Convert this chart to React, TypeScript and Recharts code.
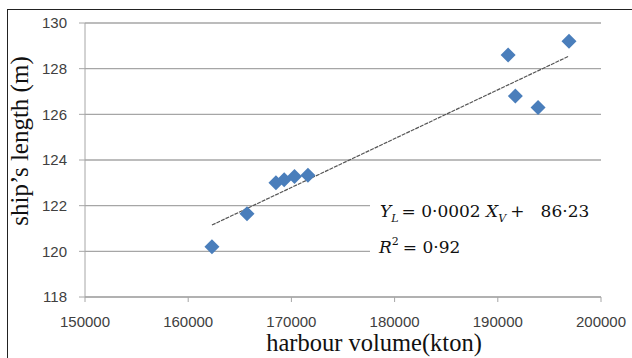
import React from "react";
import { ScatterChart, Scatter, XAxis, YAxis, CartesianGrid } from "recharts";

const volumes = [162300, 165700, 168500, 169300, 170300, 171600, 191000, 191700, 193900, 196900];
const lengths = [120.2, 121.65, 123.0, 123.13, 123.28, 123.33, 128.6, 126.8, 126.3, 129.2];
const trendX = [162300, 196900];
const trendY = [121.15, 128.55];
const xTicks = [150000, 160000, 170000, 180000, 190000, 200000];
const yTicks = [118, 120, 122, 124, 126, 128, 130];

const points = volumes.map((v, i) => ({ x: v, y: lengths[i] }));
const trend = trendX.map((v, i) => ({ x: v, y: trendY[i] }));

const Diamond = (props: any) => {
  const { cx, cy } = props;
  if (cx == null || cy == null) return null;
  const r = 7.5;
  return (
    <polygon
      points={`${cx},${cy - r} ${cx + r},${cy} ${cx},${cy + r} ${cx - r},${cy}`}
      fill="#4A7EBB"
    />
  );
};
const NoShape = () => null;

const tickStyle = { fontFamily: "Liberation Sans", fontSize: 15, fill: "#404040" };

export default function App() {
  return (
    <div style={{ position: "absolute", left: 0, top: 0, width: 632, height: 358, background: "#fff", overflow: "hidden" }}>
      <div style={{ position: "absolute", left: 7, top: 9, width: 700, height: 400, borderLeft: "1px solid #222", borderTop: "1px solid #222" }} />
      <div style={{ position: "absolute", left: 0, top: 0 }}>
        <ScatterChart width={632} height={358} margin={{ top: 23, right: 31, bottom: 31, left: 0 }}>
          <CartesianGrid vertical={false} stroke="#a6a6a6" strokeWidth={1.3} />
          <XAxis
            type="number"
            dataKey="x"
            domain={[150000, 200000]}
            ticks={xTicks}
            height={30}
            tickSize={5}
            tickMargin={14}
            stroke="#a6a6a6"
            tick={tickStyle}
            interval={0}
          />
          <YAxis
            type="number"
            dataKey="y"
            domain={[118, 130]}
            ticks={yTicks}
            width={85}
            tickSize={6}
            tickMargin={12}
            stroke="#a6a6a6"
            tick={tickStyle}
            interval={0}
          />
          <Scatter data={trend} line={{ stroke: "#555", strokeWidth: 1.2, strokeDasharray: "4 1" }} shape={NoShape} isAnimationActive={false} />
          <Scatter data={points} shape={Diamond} isAnimationActive={false} />
        </ScatterChart>
      </div>
      <svg width={632} height={358} style={{ position: "absolute", left: 0, top: 0, pointerEvents: "none" }}>
        <rect x={370} y={190} width={232} height={76} fill="#fff" />
        <text x={380} y={217} fontFamily="DejaVu Serif" fontSize={17} fill="#111" xmlSpace="preserve">
          <tspan fontStyle="italic">Y</tspan>
          <tspan fontStyle="italic" fontSize={11} dy={5}>L</tspan>
          <tspan dy={-5} dx={3}>= 0·0002 </tspan>
          <tspan fontStyle="italic">X</tspan>
          <tspan fontStyle="italic" fontSize={11} dy={5}>V</tspan>
          <tspan dy={-5} dx={4}>+   86·23</tspan>
        </text>
        <text x={379} y={253} fontFamily="DejaVu Serif" fontSize={17} fill="#111">
          <tspan fontStyle="italic">R</tspan>
          <tspan fontSize={11} dy={-8}>2</tspan>
          <tspan dy={8} dx={4}>= 0·92</tspan>
        </text>
        <text x={374} y={351} textAnchor="middle" fontFamily="Liberation Serif" fontSize={24.5} fill="#111">harbour volume(kton)</text>
        <text x={0} y={0} transform="translate(28,141) rotate(-90)" textAnchor="middle" fontFamily="Liberation Serif" fontSize={25} fill="#111">ship’s length (m)</text>
      </svg>
    </div>
  );
}
